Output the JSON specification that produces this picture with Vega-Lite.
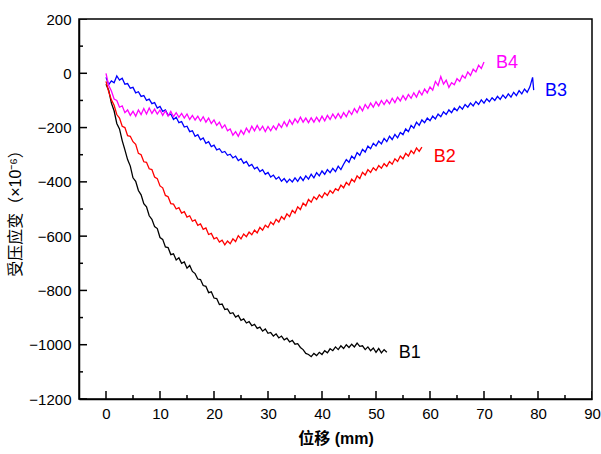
{
"$schema": "https://vega.github.io/schema/vega-lite/v6.json",
"width": 513, "height": 380,
"autosize": {"type": "none"},
"padding": {"left": 79, "top": 19, "right": 9, "bottom": 55},
"background": "white",
"config": {"view": {"stroke": "black", "strokeWidth": 1.5}, "font": "Liberation Sans"},
"datasets": {
"xmajor": [{"x":0},{"x":10},{"x":20},{"x":30},{"x":40},{"x":50},{"x":60},{"x":70},{"x":80},{"x":90}],
"xminor": [{"x":5},{"x":15},{"x":25},{"x":35},{"x":45},{"x":55},{"x":65},{"x":75},{"x":85}],
"ymajor": [{"y":-1200},{"y":-1000},{"y":-800},{"y":-600},{"y":-400},{"y":-200},{"y":0},{"y":200}],
"yminor": [{"y":-1100},{"y":-900},{"y":-700},{"y":-500},{"y":-300},{"y":-100},{"y":100}],
"labels": [
{"s":"B1","x":54.2,"y":-1030},{"s":"B2","x":60.7,"y":-308},{"s":"B3","x":81.3,"y":-64},{"s":"B4","x":72.2,"y":39}
],
"curves": [
{"s":"B1","x":0,"y":-40},{"s":"B1","x":0.5,"y":-62},{"s":"B1","x":1,"y":-110},{"s":"B1","x":1.5,"y":-138},{"s":"B1","x":2,"y":-185},{"s":"B1","x":2.5,"y":-205},{"s":"B1","x":3,"y":-248},{"s":"B1","x":3.5,"y":-282},{"s":"B1","x":4,"y":-318},{"s":"B1","x":4.5,"y":-342},{"s":"B1","x":5,"y":-385},{"s":"B1","x":5.5,"y":-398},{"s":"B1","x":6,"y":-432},{"s":"B1","x":6.5,"y":-448},{"s":"B1","x":7,"y":-480},{"s":"B1","x":7.5,"y":-492},{"s":"B1","x":8,"y":-525},{"s":"B1","x":8.5,"y":-538},{"s":"B1","x":9,"y":-565},{"s":"B1","x":9.5,"y":-572},{"s":"B1","x":10,"y":-605},{"s":"B1","x":10.5,"y":-612},{"s":"B1","x":11,"y":-640},{"s":"B1","x":11.5,"y":-642},{"s":"B1","x":12,"y":-668},{"s":"B1","x":12.5,"y":-665},{"s":"B1","x":13,"y":-688},{"s":"B1","x":13.5,"y":-680},{"s":"B1","x":14,"y":-700},{"s":"B1","x":14.5,"y":-695},{"s":"B1","x":15,"y":-718},{"s":"B1","x":15.5,"y":-708},{"s":"B1","x":16,"y":-730},{"s":"B1","x":16.5,"y":-738},{"s":"B1","x":17,"y":-758},{"s":"B1","x":17.5,"y":-760},{"s":"B1","x":18,"y":-782},{"s":"B1","x":18.5,"y":-785},{"s":"B1","x":19,"y":-808},{"s":"B1","x":19.5,"y":-805},{"s":"B1","x":20,"y":-828},{"s":"B1","x":20.5,"y":-830},{"s":"B1","x":21,"y":-852},{"s":"B1","x":21.5,"y":-850},{"s":"B1","x":22,"y":-870},{"s":"B1","x":22.5,"y":-868},{"s":"B1","x":23,"y":-885},{"s":"B1","x":23.5,"y":-882},{"s":"B1","x":24,"y":-898},{"s":"B1","x":24.5,"y":-892},{"s":"B1","x":25,"y":-910},{"s":"B1","x":25.5,"y":-905},{"s":"B1","x":26,"y":-920},{"s":"B1","x":26.5,"y":-915},{"s":"B1","x":27,"y":-930},{"s":"B1","x":27.5,"y":-925},{"s":"B1","x":28,"y":-940},{"s":"B1","x":28.5,"y":-935},{"s":"B1","x":29,"y":-950},{"s":"B1","x":29.5,"y":-942},{"s":"B1","x":30,"y":-958},{"s":"B1","x":30.5,"y":-955},{"s":"B1","x":31,"y":-968},{"s":"B1","x":31.5,"y":-960},{"s":"B1","x":32,"y":-975},{"s":"B1","x":32.5,"y":-968},{"s":"B1","x":33,"y":-982},{"s":"B1","x":33.5,"y":-976},{"s":"B1","x":34,"y":-990},{"s":"B1","x":34.5,"y":-984},{"s":"B1","x":35,"y":-998},{"s":"B1","x":35.5,"y":-996},{"s":"B1","x":36,"y":-1010},{"s":"B1","x":36.5,"y":-1018},{"s":"B1","x":37,"y":-1032},{"s":"B1","x":37.5,"y":-1036},{"s":"B1","x":38,"y":-1044},{"s":"B1","x":38.5,"y":-1032},{"s":"B1","x":39,"y":-1040},{"s":"B1","x":39.5,"y":-1028},{"s":"B1","x":40,"y":-1036},{"s":"B1","x":40.5,"y":-1022},{"s":"B1","x":41,"y":-1030},{"s":"B1","x":41.5,"y":-1015},{"s":"B1","x":42,"y":-1022},{"s":"B1","x":42.5,"y":-1008},{"s":"B1","x":43,"y":-1018},{"s":"B1","x":43.5,"y":-1004},{"s":"B1","x":44,"y":-1014},{"s":"B1","x":44.5,"y":-1000},{"s":"B1","x":45,"y":-1010},{"s":"B1","x":45.5,"y":-998},{"s":"B1","x":46,"y":-1008},{"s":"B1","x":46.5,"y":-994},{"s":"B1","x":47,"y":-1006},{"s":"B1","x":47.5,"y":-1004},{"s":"B1","x":48,"y":-1018},{"s":"B1","x":48.5,"y":-1008},{"s":"B1","x":49,"y":-1022},{"s":"B1","x":49.5,"y":-1012},{"s":"B1","x":50,"y":-1028},{"s":"B1","x":50.5,"y":-1014},{"s":"B1","x":51,"y":-1030},{"s":"B1","x":51.5,"y":-1018},{"s":"B1","x":52,"y":-1028},
{"s":"B2","x":0,"y":-30},{"s":"B2","x":0.5,"y":-68},{"s":"B2","x":1,"y":-98},{"s":"B2","x":1.5,"y":-118},{"s":"B2","x":2,"y":-152},{"s":"B2","x":2.5,"y":-165},{"s":"B2","x":3,"y":-195},{"s":"B2","x":3.5,"y":-200},{"s":"B2","x":4,"y":-230},{"s":"B2","x":4.5,"y":-232},{"s":"B2","x":5,"y":-252},{"s":"B2","x":5.5,"y":-262},{"s":"B2","x":6,"y":-295},{"s":"B2","x":6.5,"y":-300},{"s":"B2","x":7,"y":-326},{"s":"B2","x":7.5,"y":-328},{"s":"B2","x":8,"y":-352},{"s":"B2","x":8.5,"y":-355},{"s":"B2","x":9,"y":-382},{"s":"B2","x":9.5,"y":-388},{"s":"B2","x":10,"y":-415},{"s":"B2","x":10.5,"y":-422},{"s":"B2","x":11,"y":-450},{"s":"B2","x":11.5,"y":-455},{"s":"B2","x":12,"y":-480},{"s":"B2","x":12.5,"y":-482},{"s":"B2","x":13,"y":-500},{"s":"B2","x":13.5,"y":-495},{"s":"B2","x":14,"y":-515},{"s":"B2","x":14.5,"y":-510},{"s":"B2","x":15,"y":-530},{"s":"B2","x":15.5,"y":-525},{"s":"B2","x":16,"y":-545},{"s":"B2","x":16.5,"y":-540},{"s":"B2","x":17,"y":-560},{"s":"B2","x":17.5,"y":-555},{"s":"B2","x":18,"y":-575},{"s":"B2","x":18.5,"y":-570},{"s":"B2","x":19,"y":-594},{"s":"B2","x":19.5,"y":-590},{"s":"B2","x":20,"y":-610},{"s":"B2","x":20.5,"y":-605},{"s":"B2","x":21,"y":-622},{"s":"B2","x":21.5,"y":-615},{"s":"B2","x":22,"y":-632},{"s":"B2","x":22.5,"y":-618},{"s":"B2","x":23,"y":-628},{"s":"B2","x":23.5,"y":-610},{"s":"B2","x":24,"y":-620},{"s":"B2","x":24.5,"y":-598},{"s":"B2","x":25,"y":-610},{"s":"B2","x":25.5,"y":-592},{"s":"B2","x":26,"y":-602},{"s":"B2","x":26.5,"y":-585},{"s":"B2","x":27,"y":-595},{"s":"B2","x":27.5,"y":-578},{"s":"B2","x":28,"y":-588},{"s":"B2","x":28.5,"y":-568},{"s":"B2","x":29,"y":-578},{"s":"B2","x":29.5,"y":-560},{"s":"B2","x":30,"y":-568},{"s":"B2","x":30.5,"y":-548},{"s":"B2","x":31,"y":-558},{"s":"B2","x":31.5,"y":-538},{"s":"B2","x":32,"y":-548},{"s":"B2","x":32.5,"y":-528},{"s":"B2","x":33,"y":-538},{"s":"B2","x":33.5,"y":-518},{"s":"B2","x":34,"y":-528},{"s":"B2","x":34.5,"y":-505},{"s":"B2","x":35,"y":-515},{"s":"B2","x":35.5,"y":-492},{"s":"B2","x":36,"y":-502},{"s":"B2","x":36.5,"y":-478},{"s":"B2","x":37,"y":-488},{"s":"B2","x":37.5,"y":-465},{"s":"B2","x":38,"y":-475},{"s":"B2","x":38.5,"y":-455},{"s":"B2","x":39,"y":-465},{"s":"B2","x":39.5,"y":-448},{"s":"B2","x":40,"y":-458},{"s":"B2","x":40.5,"y":-440},{"s":"B2","x":41,"y":-450},{"s":"B2","x":41.5,"y":-432},{"s":"B2","x":42,"y":-442},{"s":"B2","x":42.5,"y":-425},{"s":"B2","x":43,"y":-432},{"s":"B2","x":43.5,"y":-412},{"s":"B2","x":44,"y":-422},{"s":"B2","x":44.5,"y":-402},{"s":"B2","x":45,"y":-412},{"s":"B2","x":45.5,"y":-390},{"s":"B2","x":46,"y":-400},{"s":"B2","x":46.5,"y":-378},{"s":"B2","x":47,"y":-388},{"s":"B2","x":47.5,"y":-365},{"s":"B2","x":48,"y":-375},{"s":"B2","x":48.5,"y":-355},{"s":"B2","x":49,"y":-365},{"s":"B2","x":49.5,"y":-348},{"s":"B2","x":50,"y":-358},{"s":"B2","x":50.5,"y":-340},{"s":"B2","x":51,"y":-350},{"s":"B2","x":51.5,"y":-333},{"s":"B2","x":52,"y":-343},{"s":"B2","x":52.5,"y":-325},{"s":"B2","x":53,"y":-335},{"s":"B2","x":53.5,"y":-315},{"s":"B2","x":54,"y":-325},{"s":"B2","x":54.5,"y":-305},{"s":"B2","x":55,"y":-315},{"s":"B2","x":55.5,"y":-295},{"s":"B2","x":56,"y":-305},{"s":"B2","x":56.5,"y":-285},{"s":"B2","x":57,"y":-296},{"s":"B2","x":57.5,"y":-275},{"s":"B2","x":58,"y":-288},{"s":"B2","x":58.5,"y":-272},
{"s":"B3","x":0,"y":-15},{"s":"B3","x":0.5,"y":-42},{"s":"B3","x":1,"y":-28},{"s":"B3","x":1.5,"y":-35},{"s":"B3","x":2,"y":-10},{"s":"B3","x":2.5,"y":-25},{"s":"B3","x":3,"y":-18},{"s":"B3","x":3.5,"y":-40},{"s":"B3","x":4,"y":-38},{"s":"B3","x":4.5,"y":-55},{"s":"B3","x":5,"y":-52},{"s":"B3","x":5.5,"y":-72},{"s":"B3","x":6,"y":-68},{"s":"B3","x":6.5,"y":-85},{"s":"B3","x":7,"y":-82},{"s":"B3","x":7.5,"y":-100},{"s":"B3","x":8,"y":-95},{"s":"B3","x":8.5,"y":-112},{"s":"B3","x":9,"y":-108},{"s":"B3","x":9.5,"y":-128},{"s":"B3","x":10,"y":-122},{"s":"B3","x":10.5,"y":-140},{"s":"B3","x":11,"y":-135},{"s":"B3","x":11.5,"y":-155},{"s":"B3","x":12,"y":-150},{"s":"B3","x":12.5,"y":-170},{"s":"B3","x":13,"y":-162},{"s":"B3","x":13.5,"y":-182},{"s":"B3","x":14,"y":-178},{"s":"B3","x":14.5,"y":-198},{"s":"B3","x":15,"y":-195},{"s":"B3","x":15.5,"y":-215},{"s":"B3","x":16,"y":-212},{"s":"B3","x":16.5,"y":-232},{"s":"B3","x":17,"y":-226},{"s":"B3","x":17.5,"y":-245},{"s":"B3","x":18,"y":-238},{"s":"B3","x":18.5,"y":-258},{"s":"B3","x":19,"y":-252},{"s":"B3","x":19.5,"y":-270},{"s":"B3","x":20,"y":-265},{"s":"B3","x":20.5,"y":-282},{"s":"B3","x":21,"y":-278},{"s":"B3","x":21.5,"y":-292},{"s":"B3","x":22,"y":-288},{"s":"B3","x":22.5,"y":-302},{"s":"B3","x":23,"y":-298},{"s":"B3","x":23.5,"y":-312},{"s":"B3","x":24,"y":-305},{"s":"B3","x":24.5,"y":-322},{"s":"B3","x":25,"y":-315},{"s":"B3","x":25.5,"y":-332},{"s":"B3","x":26,"y":-325},{"s":"B3","x":26.5,"y":-342},{"s":"B3","x":27,"y":-336},{"s":"B3","x":27.5,"y":-352},{"s":"B3","x":28,"y":-346},{"s":"B3","x":28.5,"y":-362},{"s":"B3","x":29,"y":-355},{"s":"B3","x":29.5,"y":-372},{"s":"B3","x":30,"y":-365},{"s":"B3","x":30.5,"y":-382},{"s":"B3","x":31,"y":-375},{"s":"B3","x":31.5,"y":-390},{"s":"B3","x":32,"y":-382},{"s":"B3","x":32.5,"y":-398},{"s":"B3","x":33,"y":-388},{"s":"B3","x":33.5,"y":-402},{"s":"B3","x":34,"y":-390},{"s":"B3","x":34.5,"y":-400},{"s":"B3","x":35,"y":-385},{"s":"B3","x":35.5,"y":-398},{"s":"B3","x":36,"y":-382},{"s":"B3","x":36.5,"y":-395},{"s":"B3","x":37,"y":-378},{"s":"B3","x":37.5,"y":-390},{"s":"B3","x":38,"y":-372},{"s":"B3","x":38.5,"y":-385},{"s":"B3","x":39,"y":-366},{"s":"B3","x":39.5,"y":-378},{"s":"B3","x":40,"y":-360},{"s":"B3","x":40.5,"y":-372},{"s":"B3","x":41,"y":-355},{"s":"B3","x":41.5,"y":-366},{"s":"B3","x":42,"y":-350},{"s":"B3","x":42.5,"y":-362},{"s":"B3","x":43,"y":-342},{"s":"B3","x":43.5,"y":-355},{"s":"B3","x":44,"y":-335},{"s":"B3","x":44.5,"y":-318},{"s":"B3","x":45,"y":-328},{"s":"B3","x":45.5,"y":-305},{"s":"B3","x":46,"y":-315},{"s":"B3","x":46.5,"y":-292},{"s":"B3","x":47,"y":-302},{"s":"B3","x":47.5,"y":-280},{"s":"B3","x":48,"y":-290},{"s":"B3","x":48.5,"y":-268},{"s":"B3","x":49,"y":-278},{"s":"B3","x":49.5,"y":-258},{"s":"B3","x":50,"y":-268},{"s":"B3","x":50.5,"y":-250},{"s":"B3","x":51,"y":-260},{"s":"B3","x":51.5,"y":-240},{"s":"B3","x":52,"y":-252},{"s":"B3","x":52.5,"y":-232},{"s":"B3","x":53,"y":-244},{"s":"B3","x":53.5,"y":-225},{"s":"B3","x":54,"y":-238},{"s":"B3","x":54.5,"y":-218},{"s":"B3","x":55,"y":-226},{"s":"B3","x":55.5,"y":-205},{"s":"B3","x":56,"y":-215},{"s":"B3","x":56.5,"y":-192},{"s":"B3","x":57,"y":-202},{"s":"B3","x":57.5,"y":-180},{"s":"B3","x":58,"y":-192},{"s":"B3","x":58.5,"y":-172},{"s":"B3","x":59,"y":-182},{"s":"B3","x":59.5,"y":-165},{"s":"B3","x":60,"y":-175},{"s":"B3","x":60.5,"y":-158},{"s":"B3","x":61,"y":-168},{"s":"B3","x":61.5,"y":-150},{"s":"B3","x":62,"y":-160},{"s":"B3","x":62.5,"y":-142},{"s":"B3","x":63,"y":-152},{"s":"B3","x":63.5,"y":-135},{"s":"B3","x":64,"y":-145},{"s":"B3","x":64.5,"y":-128},{"s":"B3","x":65,"y":-138},{"s":"B3","x":65.5,"y":-122},{"s":"B3","x":66,"y":-132},{"s":"B3","x":66.5,"y":-115},{"s":"B3","x":67,"y":-125},{"s":"B3","x":67.5,"y":-110},{"s":"B3","x":68,"y":-120},{"s":"B3","x":68.5,"y":-104},{"s":"B3","x":69,"y":-115},{"s":"B3","x":69.5,"y":-98},{"s":"B3","x":70,"y":-110},{"s":"B3","x":70.5,"y":-94},{"s":"B3","x":71,"y":-105},{"s":"B3","x":71.5,"y":-90},{"s":"B3","x":72,"y":-100},{"s":"B3","x":72.5,"y":-85},{"s":"B3","x":73,"y":-96},{"s":"B3","x":73.5,"y":-80},{"s":"B3","x":74,"y":-92},{"s":"B3","x":74.5,"y":-76},{"s":"B3","x":75,"y":-88},{"s":"B3","x":75.5,"y":-70},{"s":"B3","x":76,"y":-82},{"s":"B3","x":76.5,"y":-64},{"s":"B3","x":77,"y":-76},{"s":"B3","x":77.5,"y":-58},{"s":"B3","x":78,"y":-70},{"s":"B3","x":78.5,"y":-50},{"s":"B3","x":79,"y":-15},{"s":"B3","x":79.2,"y":-62},
{"s":"B4","x":0,"y":0},{"s":"B4","x":0.5,"y":-45},{"s":"B4","x":1,"y":-65},{"s":"B4","x":1.5,"y":-95},{"s":"B4","x":2,"y":-100},{"s":"B4","x":2.5,"y":-125},{"s":"B4","x":3,"y":-120},{"s":"B4","x":3.5,"y":-145},{"s":"B4","x":4,"y":-135},{"s":"B4","x":4.5,"y":-155},{"s":"B4","x":5,"y":-140},{"s":"B4","x":5.5,"y":-158},{"s":"B4","x":6,"y":-135},{"s":"B4","x":6.5,"y":-152},{"s":"B4","x":7,"y":-130},{"s":"B4","x":7.5,"y":-150},{"s":"B4","x":8,"y":-128},{"s":"B4","x":8.5,"y":-148},{"s":"B4","x":9,"y":-132},{"s":"B4","x":9.5,"y":-150},{"s":"B4","x":10,"y":-135},{"s":"B4","x":10.5,"y":-155},{"s":"B4","x":11,"y":-138},{"s":"B4","x":11.5,"y":-158},{"s":"B4","x":12,"y":-140},{"s":"B4","x":12.5,"y":-160},{"s":"B4","x":13,"y":-145},{"s":"B4","x":13.5,"y":-162},{"s":"B4","x":14,"y":-148},{"s":"B4","x":14.5,"y":-165},{"s":"B4","x":15,"y":-150},{"s":"B4","x":15.5,"y":-170},{"s":"B4","x":16,"y":-155},{"s":"B4","x":16.5,"y":-172},{"s":"B4","x":17,"y":-158},{"s":"B4","x":17.5,"y":-176},{"s":"B4","x":18,"y":-160},{"s":"B4","x":18.5,"y":-180},{"s":"B4","x":19,"y":-165},{"s":"B4","x":19.5,"y":-185},{"s":"B4","x":20,"y":-172},{"s":"B4","x":20.5,"y":-192},{"s":"B4","x":21,"y":-180},{"s":"B4","x":21.5,"y":-202},{"s":"B4","x":22,"y":-190},{"s":"B4","x":22.5,"y":-212},{"s":"B4","x":23,"y":-205},{"s":"B4","x":23.5,"y":-228},{"s":"B4","x":24,"y":-215},{"s":"B4","x":24.5,"y":-232},{"s":"B4","x":25,"y":-210},{"s":"B4","x":25.5,"y":-225},{"s":"B4","x":26,"y":-202},{"s":"B4","x":26.5,"y":-218},{"s":"B4","x":27,"y":-195},{"s":"B4","x":27.5,"y":-212},{"s":"B4","x":28,"y":-192},{"s":"B4","x":28.5,"y":-210},{"s":"B4","x":29,"y":-195},{"s":"B4","x":29.5,"y":-215},{"s":"B4","x":30,"y":-196},{"s":"B4","x":30.5,"y":-212},{"s":"B4","x":31,"y":-194},{"s":"B4","x":31.5,"y":-208},{"s":"B4","x":32,"y":-186},{"s":"B4","x":32.5,"y":-200},{"s":"B4","x":33,"y":-178},{"s":"B4","x":33.5,"y":-195},{"s":"B4","x":34,"y":-172},{"s":"B4","x":34.5,"y":-188},{"s":"B4","x":35,"y":-168},{"s":"B4","x":35.5,"y":-182},{"s":"B4","x":36,"y":-162},{"s":"B4","x":36.5,"y":-180},{"s":"B4","x":37,"y":-165},{"s":"B4","x":37.5,"y":-182},{"s":"B4","x":38,"y":-164},{"s":"B4","x":38.5,"y":-180},{"s":"B4","x":39,"y":-162},{"s":"B4","x":39.5,"y":-178},{"s":"B4","x":40,"y":-158},{"s":"B4","x":40.5,"y":-175},{"s":"B4","x":41,"y":-155},{"s":"B4","x":41.5,"y":-170},{"s":"B4","x":42,"y":-150},{"s":"B4","x":42.5,"y":-166},{"s":"B4","x":43,"y":-148},{"s":"B4","x":43.5,"y":-165},{"s":"B4","x":44,"y":-145},{"s":"B4","x":44.5,"y":-160},{"s":"B4","x":45,"y":-138},{"s":"B4","x":45.5,"y":-152},{"s":"B4","x":46,"y":-130},{"s":"B4","x":46.5,"y":-145},{"s":"B4","x":47,"y":-122},{"s":"B4","x":47.5,"y":-138},{"s":"B4","x":48,"y":-115},{"s":"B4","x":48.5,"y":-130},{"s":"B4","x":49,"y":-110},{"s":"B4","x":49.5,"y":-125},{"s":"B4","x":50,"y":-105},{"s":"B4","x":50.5,"y":-120},{"s":"B4","x":51,"y":-100},{"s":"B4","x":51.5,"y":-115},{"s":"B4","x":52,"y":-98},{"s":"B4","x":52.5,"y":-112},{"s":"B4","x":53,"y":-92},{"s":"B4","x":53.5,"y":-108},{"s":"B4","x":54,"y":-88},{"s":"B4","x":54.5,"y":-102},{"s":"B4","x":55,"y":-82},{"s":"B4","x":55.5,"y":-98},{"s":"B4","x":56,"y":-78},{"s":"B4","x":56.5,"y":-92},{"s":"B4","x":57,"y":-72},{"s":"B4","x":57.5,"y":-88},{"s":"B4","x":58,"y":-65},{"s":"B4","x":58.5,"y":-80},{"s":"B4","x":59,"y":-58},{"s":"B4","x":59.5,"y":-72},{"s":"B4","x":60,"y":-50},{"s":"B4","x":60.5,"y":-62},{"s":"B4","x":61,"y":-30},{"s":"B4","x":61.5,"y":-45},{"s":"B4","x":62,"y":-12},{"s":"B4","x":62.5,"y":-40},{"s":"B4","x":63,"y":-25},{"s":"B4","x":63.5,"y":-52},{"s":"B4","x":64,"y":-35},{"s":"B4","x":64.5,"y":-42},{"s":"B4","x":65,"y":-20},{"s":"B4","x":65.5,"y":-30},{"s":"B4","x":66,"y":-8},{"s":"B4","x":66.5,"y":-18},{"s":"B4","x":67,"y":5},{"s":"B4","x":67.5,"y":-8},{"s":"B4","x":68,"y":15},{"s":"B4","x":68.5,"y":5},{"s":"B4","x":69,"y":30},{"s":"B4","x":69.5,"y":18},{"s":"B4","x":70,"y":42}
]
},
"layer": [
{
"data": {"name": "curves"},
"mark": {"type": "line", "strokeWidth": 1.3},
"encoding": {
"x": {"field": "x", "type": "quantitative",
"scale": {"domain": [-5, 90], "nice": false, "zero": false},
"axis": {"title": "位移 (mm)", "values": [0,10,20,30,40,50,60,70,80,90],
"zindex": 1, "grid": false, "ticks": false, "tickSize": 0, "domainColor": "black", "domainWidth": 1.5,
"labelFontSize": 15, "labelColor": "black", "labelFont": "Liberation Sans", "labelPadding": 7, "labelFlush": false, "labelOverlap": false,
"titleFont": "Liberation Sans, Noto Sans CJK SC", "titleFontSize": 16, "titleFontWeight": "bold", "titleColor": "black", "titlePadding": 9}
},
"y": {"field": "y", "type": "quantitative",
"scale": {"domain": [-1200, 200], "nice": false, "zero": false},
"axis": {"title": "受压应变（×10⁻⁶）", "values": [-1200,-1000,-800,-600,-400,-200,0,200],
"format": "d", "zindex": 1, "grid": false, "ticks": false, "tickSize": 0, "domainColor": "black", "domainWidth": 1.5,
"labelFontSize": 15, "labelColor": "black", "labelFont": "Liberation Sans", "labelPadding": 8, "labelFlush": false, "labelOverlap": false,
"titleFont": "Liberation Sans, Noto Sans CJK SC", "titleFontSize": 16, "titleFontWeight": "normal", "titleColor": "black", "titlePadding": 5}
},
"color": {"field": "s", "type": "nominal",
"scale": {"domain": ["B1","B2","B3","B4"], "range": ["#000000","#ff0000","#0000ff","#ff00ff"]}, "legend": null}
}
},
{
"data": {"name": "labels"},
"mark": {"type": "text", "align": "left", "baseline": "middle", "fontSize": 18, "font": "Liberation Sans"},
"encoding": {
"x": {"field": "x", "type": "quantitative"},
"y": {"field": "y", "type": "quantitative"},
"text": {"field": "s"},
"color": {"field": "s", "type": "nominal", "legend": null}
}
},
{
"data": {"name": "xmajor"},
"mark": {"type": "tick", "orient": "vertical", "size": 16, "thickness": 1.5, "color": "black", "opacity": 1, "clip": true},
"encoding": {"x": {"field": "x", "type": "quantitative"}, "y": {"datum": -1200, "type": "quantitative"}}
},
{
"data": {"name": "xminor"},
"mark": {"type": "tick", "orient": "vertical", "size": 8, "thickness": 1.5, "color": "black", "opacity": 1, "clip": true},
"encoding": {"x": {"field": "x", "type": "quantitative"}, "y": {"datum": -1200, "type": "quantitative"}}
},
{
"data": {"name": "ymajor"},
"mark": {"type": "tick", "orient": "horizontal", "size": 16, "thickness": 1.5, "color": "black", "opacity": 1, "clip": true},
"encoding": {"y": {"field": "y", "type": "quantitative"}, "x": {"datum": -5, "type": "quantitative"}}
},
{
"data": {"name": "yminor"},
"mark": {"type": "tick", "orient": "horizontal", "size": 8, "thickness": 1.5, "color": "black", "opacity": 1, "clip": true},
"encoding": {"y": {"field": "y", "type": "quantitative"}, "x": {"datum": -5, "type": "quantitative"}}
}
]
}
